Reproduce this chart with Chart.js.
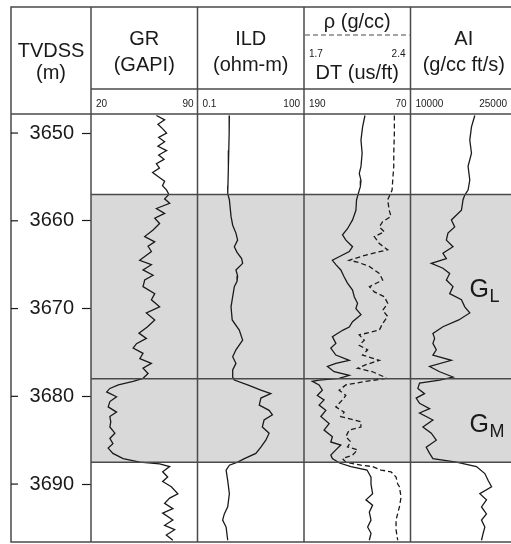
<!DOCTYPE html>
<html>
<head>
<meta charset="utf-8">
<script src="https://cdn.jsdelivr.net/npm/chart.js@4.4.0/dist/chart.umd.min.js"></script>
<style>
  html, body { margin: 0; padding: 0; background: #fff; overflow: hidden; }
  canvas { display: block; }
</style>
</head>
<body>
<canvas id="logChart" width="518" height="544"></canvas>
<script>
// depth axis (TVDSS, m)
var depthTicks = [3650, 3660, 3670, 3680, 3690];
var depthRange = [3647.83, 3696.6];

// zone boundaries: top G_L, G_L / G_M contact, base G_M
var zoneTops = [3657, 3678, 3687.5];
var zoneNames = ['L', 'M'];

// track ranges (left label, right label)
var grRange = [20, 90];
var ildRange = [0.1, 100];
var dtRange = [190, 70];
var rhoRange = [1.7, 2.4];
var aiRange = [10000, 25000];

// GR (GAPI)
var grDepth = [3648, 3648.5, 3649, 3649.5, 3650, 3650.5, 3651, 3651.5, 3652, 3652.5,
  3653, 3653.5, 3654, 3654.5, 3655, 3655.5, 3656, 3656.5, 3657, 3657.5,
  3658, 3658.6, 3659.15, 3659.7, 3660.3, 3661.05, 3661.8, 3662.4, 3662.9, 3663.5,
  3664.5, 3665, 3665.6, 3666.2, 3666.75, 3667.5, 3668.3, 3669, 3669.8, 3670.5,
  3671.3, 3672.1, 3672.8, 3673.4, 3674, 3674.5, 3675.1, 3675.7, 3676.25, 3676.8,
  3677.4, 3677.95, 3678.3, 3678.7, 3679.1, 3679.5, 3680.05, 3680.6, 3681.2, 3681.8,
  3682.3, 3682.9, 3683.5, 3684.2, 3684.8, 3685.4, 3685.9, 3686.5, 3687.1, 3687.5,
  3687.7, 3688, 3688.6, 3689.2, 3689.7, 3690.3, 3691.1, 3691.6, 3692.2, 3692.8,
  3693.3, 3694.1, 3694.7, 3695.2, 3695.8, 3696.4];
var grValue = [63, 68.4, 64, 67, 69.7, 64.5, 68.4, 64, 69.7, 64.5,
  68, 63, 65, 60.5, 64.5, 68.4, 67, 69.7, 71.2, 68.4,
  71.7, 63, 68.4, 61.9, 65.1, 60.8, 55.3, 61.9, 57.5, 59.7,
  52, 59.7, 54.2, 60.8, 55.3, 54.2, 61.9, 59.7, 65.1, 56.4,
  61.9, 57, 51.5, 56.4, 49.9, 47.7, 54.2, 52.1, 59.7, 54.2,
  57.5, 54.2, 47.7, 38, 32.4, 30.3, 36.8, 32.4, 31.3, 36.8,
  32.4, 33, 32.4, 35.7, 32.4, 34.4, 31.3, 34.4, 41.1, 52.1,
  65.1, 71.7, 67.1, 70.4, 67.1, 72.8, 77.1, 71.7, 68.4, 73.8,
  67.1, 73.8, 68.4, 75, 69.5, 73.8];

// ILD (ohm-m)
var ildDepth = [3648, 3650, 3652, 3654, 3656, 3656.9, 3657.6, 3659.5, 3660.5, 3661.4,
  3662.2, 3662.95, 3663.6, 3664.3, 3664.85, 3665.6, 3666.3, 3666.9, 3667.5, 3668.65,
  3669.8, 3671.3, 3672.45, 3673.6, 3674.7, 3675.5, 3676.25, 3677, 3677.8, 3678.15,
  3678.7, 3679.3, 3679.7, 3680.2, 3681, 3681.6, 3682.1, 3682.7, 3683.5, 3684.2,
  3685, 3685.8, 3686.5, 3687.1, 3687.5, 3687.85, 3688.4, 3689.6, 3691.1, 3692.6,
  3693.4, 3694.1, 3694.9, 3696.4];
var ildValue = [0.79, 0.78, 0.76, 0.74, 0.72, 0.71, 0.79, 0.88, 0.98, 1.21,
  1.35, 1.09, 1.3, 1.75, 1.87, 1.21, 1.35, 1.3, 1.09, 0.98,
  0.88, 0.95, 1.5, 1.87, 1.21, 0.98, 1.21, 0.98, 0.98, 1.09,
  2.58, 6.1, 11.6, 6.1, 5.5, 10.4, 12.9, 7.5, 6.7, 10.4,
  8.4, 6.1, 4.4, 2.1, 1.35, 0.79, 0.64, 0.71, 0.79, 0.71,
  0.57, 0.51, 0.64, 0.71];

// DT (us/ft)
var dtDepth = [3648, 3649.3, 3650.8, 3652.3, 3653.8, 3654.6, 3655.4, 3656.1, 3656.5, 3657.6,
  3658.8, 3659.9, 3660.9, 3661.6, 3662.2, 3662.95, 3663.5, 3664.1, 3664.5, 3665,
  3665.6, 3666.4, 3667.1, 3667.9, 3668.65, 3669.4, 3670, 3670.7, 3671.5, 3672.1,
  3672.45, 3673.2, 3673.97, 3674.5, 3675.3, 3675.9, 3676.25, 3676.6, 3677.2, 3677.6,
  3677.95, 3678.15, 3678.3, 3678.7, 3679.3, 3679.9, 3680.4, 3681, 3681.6, 3682.3,
  3683.1, 3683.85, 3684.6, 3685.2, 3685.55, 3686.1, 3686.7, 3687.1, 3687.6, 3688,
  3688.4, 3689.2, 3690, 3691.1, 3691.8, 3692.4, 3693.2, 3694.1, 3694.9, 3695.6,
  3696.4];
var dtValue = [121.3, 124, 125.8, 124.5, 125.8, 127.7, 125.8, 126.5, 127.7, 130.8,
  131.5, 135.3, 141, 146.6, 142.8, 135.3, 139, 150.4, 158, 154.1,
  148.5, 144.7, 141, 135.3, 133.4, 129.7, 131.5, 125.8, 135.3, 139,
  146, 158, 154.1, 159.8, 154.1, 139, 154.1, 163.6, 156, 139,
  150.4, 173, 180.6, 173, 169.3, 175, 167.4, 173, 165.4, 171,
  161.7, 167.4, 158, 159.8, 148.5, 154.1, 159.8, 158, 150, 137.1,
  119, 114.5, 114.5, 112.7, 120.2, 112.7, 116.4, 114.5, 118.3, 114.5,
  116.4];

// rho (g/cc), dashed
var rhoDepth = [3648, 3650, 3652.3, 3653.8, 3655.4, 3656.5, 3657.6, 3658.8, 3659.5, 3660.1,
  3660.7, 3661.25, 3661.8, 3662.6, 3663.3, 3663.9, 3664.5, 3664.7, 3665.2, 3666,
  3666.75, 3667.5, 3668.1, 3668.65, 3669.4, 3670.2, 3670.9, 3671.7, 3672.45, 3673,
  3673.6, 3674.2, 3674.7, 3675.3, 3675.9, 3676.4, 3676.8, 3677.2, 3677.8, 3677.95,
  3678.3, 3678.7, 3679.3, 3679.9, 3680.4, 3681.2, 3681.8, 3682.3, 3682.9, 3683.5,
  3683.85, 3684.6, 3685.2, 3685.75, 3686.1, 3686.7, 3687.1, 3687.5, 3687.85, 3688,
  3688.4, 3688.6, 3689.2, 3690, 3690.3, 3691.5, 3692.6, 3694.1, 3695.2, 3696.4];
var rhoValue = [2.294, 2.294, 2.29, 2.29, 2.283, 2.279, 2.25, 2.26, 2.272, 2.217,
  2.195, 2.228, 2.162, 2.195, 2.25, 2.107, 1.997, 2.05, 2.129, 2.195,
  2.217, 2.13, 2.162, 2.228, 2.25, 2.217, 2.25, 2.217, 2.195, 2.063,
  2.096, 2.063, 2.118, 2.085, 2.195, 2.107, 2.052, 2.151, 2.228, 2.239,
  2.107, 1.975, 1.931, 1.975, 1.953, 1.909, 1.964, 1.942, 2.074, 2.074,
  1.997, 1.975, 2.008, 1.986, 2.052, 2.019, 1.953, 1.975, 2.074, 2.15,
  2.206, 2.272, 2.305, 2.316, 2.327, 2.338, 2.327, 2.305, 2.305, 2.316];

// AI (g/cc ft/s)
var aiDepth = [3648, 3649.3, 3650.8, 3652.3, 3653.8, 3655.35, 3656.5, 3657.07, 3657.6, 3658.8,
  3659.9, 3660.7, 3661.4, 3662.2, 3662.95, 3663.7, 3664.3, 3664.85, 3665.4, 3666,
  3666.75, 3667.5, 3668.3, 3669, 3669.8, 3670.5, 3671.3, 3672.07, 3672.83, 3673.4,
  3673.97, 3674.7, 3675.3, 3675.9, 3676.6, 3677.2, 3677.8, 3678.15, 3678.5, 3679.1,
  3679.7, 3680.2, 3680.8, 3681.4, 3681.9, 3682.7, 3683.5, 3684.2, 3685, 3685.8,
  3686.5, 3687.1, 3687.5, 3688, 3688.8, 3689.6, 3690.3, 3691.1, 3691.8, 3692.6,
  3693.4, 3694.1, 3694.9, 3695.6, 3696.4];
var aiValue = [19056, 18589, 18350, 18589, 18108, 18350, 18108, 17641, 17400, 17174,
  15759, 16226, 15278, 15051, 15985, 14570, 15051, 12929, 14570, 15518,
  15051, 15985, 15518, 17174, 17641, 18350, 16800, 14570, 13155, 13400,
  13155, 13631, 13155, 15759, 12689, 14104, 15985, 14104, 11274, 11038,
  11981, 10800, 11274, 12689, 11274, 13155, 11745, 12929, 13631, 12217,
  12689, 13155, 16462, 19292, 20471, 20938, 21419, 19764, 20700, 20000,
  20700, 20000, 20471, 20235, 20000];

var FONT = '"Liberation Sans", Arial, Helvetica, sans-serif';
var INK = '#1a1a1a';
var FRAME = '#4a4a4a';

function toPoints(depths, values) {
    var pts = [];
    for (var i = 0; i < depths.length; i++) {
        pts.push({ x: values[i], y: depths[i] });
    }
    return pts;
}

function curve(depths, values, axis, dashed) {
    return {
        data: toPoints(depths, values),
        xAxisID: axis,
        yAxisID: 'y',
        showLine: true,
        borderColor: INK,
        borderWidth: 1.3,
        borderDash: dashed ? [5, 3] : [],
        pointRadius: 0,
        tension: 0
    };
}

// draws the frame, header, zone shading and labels
var logFrame = {
    id: 'logFrame',
    beforeDatasetsDraw: function (chart) {
        var ctx = chart.ctx, a = chart.chartArea, y = chart.scales.y;
        ctx.save();
        ctx.fillStyle = '#d9d9d9';
        var t = y.getPixelForValue(zoneTops[0]);
        var b = y.getPixelForValue(zoneTops[zoneTops.length - 1]);
        ctx.fillRect(a.left, t, a.right - a.left, b - t);
        ctx.restore();
    },
    afterDatasetsDraw: function (chart) {
        var ctx = chart.ctx, a = chart.chartArea, s = chart.scales, y = s.y;
        var left = 11, top = 7, right = a.right, bottom = a.bottom;
        var tracks = [s.xGR, s.xILD, s.xDT, s.xAI];

        function line(x1, y1, x2, y2) {
            ctx.beginPath();
            ctx.moveTo(x1, y1);
            ctx.lineTo(x2, y2);
            ctx.stroke();
        }

        ctx.save();
        ctx.strokeStyle = FRAME;
        ctx.lineWidth = 1.5;

        // zone boundaries
        zoneTops.forEach(function (d) {
            var py = y.getPixelForValue(d);
            line(a.left, py, right, py);
        });

        // frame and track separators
        ctx.strokeRect(left, top, right - left, bottom - top);
        tracks.forEach(function (sc) { line(sc.left, top, sc.left, bottom); });
        line(a.left, 89, right, 89);
        line(left, a.top, right, a.top);

        // depth tick marks on the left side of the depth column
        ctx.strokeStyle = INK;
        ctx.lineWidth = 1.2;
        depthTicks.forEach(function (d) {
            var py = y.getPixelForValue(d);
            line(left, py, left + 7, py);
        });

        // dashed separator for rho / DT
        ctx.strokeStyle = FRAME;
        ctx.setLineDash([5, 3]);
        line(s.xDT.left + 1, 35, s.xDT.right - 1, 35);
        ctx.setLineDash([]);

        // header text
        ctx.fillStyle = INK;
        ctx.textAlign = 'center';
        ctx.textBaseline = 'alphabetic';
        ctx.font = '20px ' + FONT;
        var cx = function (sc) { return (sc.left + sc.right) / 2; };
        ctx.fillText('TVDSS', (left + a.left) / 2, 57);
        ctx.fillText('(m)', (left + a.left) / 2, 79);
        ctx.fillText('GR', cx(s.xGR), 45);
        ctx.fillText('(GAPI)', cx(s.xGR), 71);
        ctx.fillText('ILD', cx(s.xILD), 45);
        ctx.fillText('(ohm-m)', cx(s.xILD), 71);
        ctx.fillText('\u03c1 (g/cc)', cx(s.xDT), 28);
        ctx.fillText('DT (us/ft)', cx(s.xDT), 79);
        ctx.fillText('AI', cx(s.xAI), 45);
        ctx.fillText('(g/cc ft/s)', cx(s.xAI), 71);

        // scale end labels
        ctx.font = '10px ' + FONT;
        var ranges = [grRange, ildRange, dtRange, aiRange];
        tracks.forEach(function (sc, i) {
            ctx.textAlign = 'left';
            ctx.fillText(String(ranges[i][0]), sc.left + 5, 107);
            ctx.textAlign = 'right';
            ctx.fillText(String(ranges[i][1]), Math.min(sc.right, 511) - 4, 107);
        });
        ctx.textAlign = 'left';
        ctx.fillText(String(rhoRange[0]), s.xDT.left + 5, 57);
        ctx.textAlign = 'right';
        ctx.fillText(String(rhoRange[1]), s.xDT.right - 5, 57);

        // zone labels in the AI track
        var gx = s.xAI.getPixelForValue(18300);
        var labelDepths = [3668.7, 3684.1];
        zoneNames.forEach(function (name, i) {
            var py = y.getPixelForValue(labelDepths[i]);
            ctx.textAlign = 'left';
            ctx.font = '25px ' + FONT;
            ctx.fillText('G', gx, py);
            ctx.font = '18px ' + FONT;
            ctx.fillText(name, gx + 20, py + 5);
        });
        ctx.restore();
    }
};

var ctx = document.getElementById('logChart').getContext('2d');
var logChart = new Chart(ctx, {
    type: 'scatter',
    data: {
        datasets: [
            curve(grDepth, grValue, 'xGR', false),
            curve(ildDepth, ildValue, 'xILD', false),
            curve(dtDepth, dtValue, 'xDT', false),
            curve(rhoDepth, rhoValue, 'xRho', true),
            curve(aiDepth, aiValue, 'xAI', false)
        ]
    },
    options: {
        responsive: false,
        animation: false,
        events: [],
        layout: { padding: { left: 11, top: 114, right: 1, bottom: 2 } },
        plugins: { legend: { display: false }, tooltip: { enabled: false } },
        scales: {
            y: {
                type: 'linear',
                position: 'left',
                reverse: true,
                min: depthRange[0],
                max: depthRange[1],
                afterFit: function (scale) {
                    scale.width = 80;
                    scale.paddingTop = 0;
                    scale.paddingBottom = 0;
                },
                afterBuildTicks: function (scale) {
                    scale.ticks = depthTicks.map(function (v) { return { value: v }; });
                },
                ticks: {
                    padding: 8,
                    color: INK,
                    font: { family: FONT, size: 20 },
                    callback: function (v) { return String(v); }
                },
                grid: { drawOnChartArea: false, drawTicks: true, tickLength: 9, tickColor: INK, tickWidth: 1.2 },
                border: { display: false }
            },
            // bottom stack: the four tracks side by side
            xGR: { type: 'linear', axis: 'x', position: 'bottom', stack: 'tracks', stackWeight: 1,
                   min: grRange[0], max: grRange[1], display: false },
            xILD: { type: 'logarithmic', axis: 'x', position: 'bottom', stack: 'tracks', stackWeight: 1,
                    min: ildRange[0], max: ildRange[1], display: false },
            xDT: { type: 'linear', axis: 'x', position: 'bottom', stack: 'tracks', stackWeight: 1,
                   min: dtRange[1], max: dtRange[0], reverse: true, display: false },
            xAI: { type: 'linear', axis: 'x', position: 'bottom', stack: 'tracks', stackWeight: 1,
                   min: aiRange[0], max: aiRange[1], display: false },
            // top stack (laid out right to left): rho shares the third track
            xPadA: { type: 'linear', axis: 'x', position: 'top', stack: 'over', stackWeight: 1, display: false },
            xRho: { type: 'linear', axis: 'x', position: 'top', stack: 'over', stackWeight: 1,
                    min: rhoRange[0], max: rhoRange[1], display: false },
            xPadB: { type: 'linear', axis: 'x', position: 'top', stack: 'over', stackWeight: 2, display: false }
        }
    },
    plugins: [logFrame]
});
</script>
</body>
</html>
